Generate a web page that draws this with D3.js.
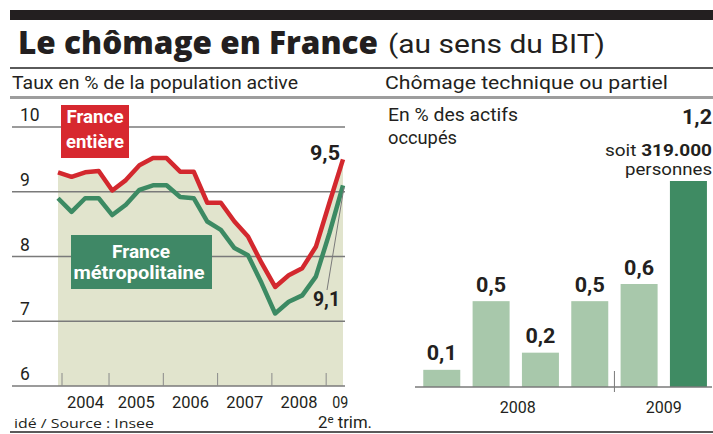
<!DOCTYPE html>
<html><head><meta charset="utf-8">
<script src="https://cdn.jsdelivr.net/npm/d3@7"></script>
<style>
html,body{margin:0;padding:0;background:#fff;}
svg{display:block;}
</style></head><body>
<svg id="c" width="713" height="434"></svg>
<script>
// ---------- DATA ----------
const quarters = ["2004T1","2004T2","2004T3","2004T4","2005T1","2005T2","2005T3","2005T4",
  "2006T1","2006T2","2006T3","2006T4","2007T1","2007T2","2007T3","2007T4",
  "2008T1","2008T2","2008T3","2008T4","2009T1","2009T2"];
const franceEntiere = [9.30,9.23,9.30,9.32,9.02,9.18,9.41,9.52,9.52,9.31,9.31,8.83,
  8.83,8.54,8.31,7.90,7.53,7.71,7.82,8.15,8.83,9.50];
const franceMetro = [8.90,8.69,8.90,8.90,8.64,8.80,9.03,9.10,9.10,8.92,8.90,8.54,
  8.41,8.13,8.02,7.59,7.12,7.30,7.40,7.69,8.36,9.10];
const yTicks = [6,7,8,9,10];
const tickYears = [2004,2005,2006,2007,2008,2009];
const yearLabels = ["2004","2005","2006","2007","2008","09"];
const barCategories = ["2008T1","2008T2","2008T3","2008T4","2009T1","2009T2"];
const barValues = [0.1,0.5,0.2,0.5,0.6,1.2];
const barYears = ["2008","2009"];

// ---------- HELPERS ----------
const NARROW = "'Liberation Sans Narrow','Arial Narrow',Roboto,'Liberation Sans',sans-serif";
const HUMAN = "'Open Sans','Noto Sans',sans-serif";
const svg = d3.select("#c");
const fr = d3.formatLocale({decimal:",", thousands:".", grouping:[3], currency:["","€"]});
const f1 = fr.format(".1f");
function txt(x, y, s, o={}) {
  const t = svg.append("text").attr("x", x).attr("y", y)
    .attr("font-family", o.ff || NARROW)
    .attr("font-size", o.fs || 17)
    .attr("font-weight", o.fw || 400)
    .attr("fill", o.fill || "#231f20")
    .attr("text-anchor", o.anchor || "start");
  if (s != null) t.text(s);
  if (o.w) t.attr("textLength", o.w).attr("lengthAdjust", "spacingAndGlyphs");
  return t;
}
const tOf = q => +q.slice(0,4) + (+q.slice(5) - 1) / 4;

svg.append("rect").attr("width",713).attr("height",434).attr("fill","#fff");

// ---------- HEADER ----------
svg.append("rect").attr("x",10).attr("y",10).attr("width",703).attr("height",10).attr("fill","#231f20");
svg.append("rect").attr("x",10).attr("y",67).attr("width",703).attr("height",2).attr("fill","#5a5a5a");
svg.append("rect").attr("x",10).attr("y",96).attr("width",703).attr("height",3).attr("fill","#9d9d9d");
svg.append("rect").attr("x",10).attr("y",431).attr("width",703).attr("height",2).attr("fill","#5a5a5a");

txt(18, 54, "Le chômage en France", {ff:HUMAN, fs:31, fw:800, w:360});
txt(388, 53, "(au sens du BIT)", {fs:25, w:217});
txt(12, 89, "Taux en % de la population active", {fs:18.5, w:286});
txt(385, 89, "Chômage technique ou partiel", {fs:18.5, w:283});

// ---------- LEFT: LINE CHART ----------
const x = d3.scaleLinear().domain([2004, 2009.25]).range([58, 343]);
const y = d3.scaleLinear().domain([6, 10]).range([386, 127]);

const ptsE = quarters.map((q,i) => ({t: tOf(q), v: franceEntiere[i]}));
const ptsM = quarters.map((q,i) => ({t: tOf(q), v: franceMetro[i]}));

svg.append("path").datum(ptsE)
  .attr("d", d3.area().x(d => x(d.t)).y0(y(6)).y1(d => y(d.v)))
  .attr("fill", "#e1e4cd");

svg.selectAll(".grid").data(yTicks).join("line")
  .attr("x1", 12).attr("x2", 345)
  .attr("y1", d => y(d)).attr("y2", d => y(d))
  .attr("stroke", "#7a7a7a").attr("stroke-width", 1.5);

yTicks.forEach(v => txt(20, y(v) - 6, String(v), {fs:17.5}));

const tickX = tickYears.map((yr, i) => i === 0 ? x(yr) + 4 : x(yr - 0.06));
svg.selectAll(".tk").data(tickX).join("line")
  .attr("x1", d => d).attr("x2", d => d).attr("y1", 373).attr("y2", 386)
  .attr("stroke", "#8a8a8a").attr("stroke-width", 1);
yearLabels.forEach((lab, i) => {
  const a = tickX[i], b = i < tickX.length - 1 ? tickX[i+1] : x(2009.5);
  txt((a + b) / 2 - (i === 5 ? 1 : 0), 408, lab, {fs:17, anchor:"middle", w: lab.length === 4 ? 37 : 16});
});

const line = d3.line().x(d => x(d.t)).y(d => y(d.v)).curve(d3.curveLinear);
svg.append("path").datum(ptsM).attr("d", line).attr("fill","none")
  .attr("stroke","#3c8a63").attr("stroke-width",4.5).attr("stroke-linejoin","round");
svg.append("path").datum(ptsE).attr("d", line).attr("fill","none")
  .attr("stroke","#d3282e").attr("stroke-width",4.5).attr("stroke-linejoin","round");

// legend boxes
svg.append("rect").attr("x",61).attr("y",105).attr("width",68).attr("height",53).attr("fill","#d7282f");
txt(95, 123, "France", {fs:18, fw:700, fill:"#fff", anchor:"middle", w:57});
txt(95, 148, "entière", {fs:18, fw:700, fill:"#fff", anchor:"middle", w:58});
svg.append("rect").attr("x",71).attr("y",235).attr("width",141).attr("height",54).attr("fill","#3f8866");
txt(141, 258, "France", {fs:19, fw:700, fill:"#fff", anchor:"middle", w:58});
txt(139, 279, "métropolitaine", {fs:19, fw:700, fill:"#fff", anchor:"middle", w:131});

// end labels
const lastE = ptsE[ptsE.length-1], lastM = ptsM[ptsM.length-1];
txt(340, 160, f1(lastE.v), {fs:20, fw:700, anchor:"end", w:30});
svg.append("line").attr("x1",327).attr("y1",290).attr("x2",x(lastM.t)+1).attr("y2",y(lastM.v)+2)
  .attr("stroke","#7a7a7a").attr("stroke-width",1);
txt(340, 306, f1(lastM.v), {fs:20, fw:700, anchor:"end", w:27});

txt(14, 428, "idé / Source : Insee", {ff:HUMAN, fs:13.5, w:140});
const tr = txt(318, 428, null, {fs:16, w:54});
tr.append("tspan").text("2");
tr.append("tspan").attr("font-size",11).attr("dy",-5).text("e");
tr.append("tspan").attr("dy",5).text(" trim.");

// ---------- RIGHT: BAR CHART ----------
const xb = d3.scaleBand().domain(barCategories).range([417.1, 713.1]).paddingInner(0.25).paddingOuter(0.125);
const yb = d3.scaleLinear().domain([0, 1.2]).range([387, 181]);

txt(388, 121, "En % des actifs", {fs:17.5, w:130});
txt(388, 144, "occupés", {fs:17.5, w:69});

svg.selectAll(".bar").data(barCategories).join("rect")
  .attr("x", d => xb(d)).attr("width", xb.bandwidth())
  .attr("y", (d,i) => yb(barValues[i])).attr("height", (d,i) => yb(0) - yb(barValues[i]))
  .attr("fill", (d,i) => i === barCategories.length - 1 ? "#3f8b63" : "#a8c8ab");

svg.append("line").attr("x1",415).attr("x2",712).attr("y1",yb(0)).attr("y2",yb(0))
  .attr("stroke","#7a7a7a").attr("stroke-width",1.5);
const sepX = (xb(barCategories[3]) + xb.bandwidth() + xb(barCategories[4])) / 2;
svg.append("line").attr("x1",sepX).attr("x2",sepX).attr("y1",371).attr("y2",392)
  .attr("stroke","#7a7a7a").attr("stroke-width",1);

barValues.forEach((v, i) => {
  if (i === barValues.length - 1) return;
  txt(xb(barCategories[i]) + xb.bandwidth()/2, yb(v) - 9.5, f1(v), {fs:20, fw:700, anchor:"middle", w:30});
});
// label for last bar (top right)
txt(712, 124, f1(barValues[barValues.length-1]), {fs:20, fw:700, anchor:"end", w:30});
const so = txt(712, 156, null, {fs:16, anchor:"end", w:107});
so.append("tspan").text("soit ");
so.append("tspan").attr("font-weight",700).text("319.000");
txt(712, 175, "personnes", {fs:16, anchor:"end", w:87});

barYears.forEach(yr => {
  const cats = barCategories.filter(c => c.startsWith(yr));
  const a = xb(cats[0]), b = xb(cats[cats.length-1]) + xb.bandwidth();
  txt((a + b) / 2 + (yr === "2008" ? 2 : 0), 413, yr, {fs:17, anchor:"middle", w:36});
});
</script>
</body></html>
